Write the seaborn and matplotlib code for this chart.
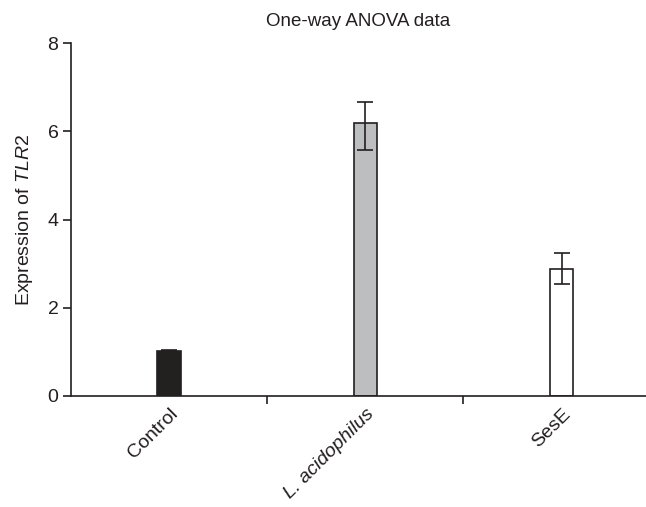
import matplotlib
matplotlib.use("Agg")
import matplotlib.pyplot as plt
import seaborn as sns
import numpy as np
import pandas as pd

categories = ["Control", "L. acidophilus", "SesE"]
tick_labels = ["Control", "L. acidophilus", "SesE"]
italic_ticks = [False, True, False]
means = [1.03, 6.18, 2.87]
err_lower = [0.02, 0.60, 0.34]
err_upper = [0.02, 0.49, 0.38]
fills = ["#231f20", "#bcbec0", "#ffffff"]

sns.set_style("white")
plt.rcParams['font.family'] = ['Liberation Sans', 'DejaVu Sans']
plt.rcParams['mathtext.fontset'] = 'custom'
plt.rcParams['mathtext.it'] = 'Liberation Sans:italic'
plt.rcParams['mathtext.rm'] = 'Liberation Sans'

fig = plt.figure(figsize=(6.46, 5.07), dpi=100)
ax = fig.add_axes([71/646, (507-396)/507, 1 - 71/646, (396-43)/507])

df = pd.DataFrame({"cat": categories, "val": means})
sns.barplot(data=df, x="cat", y="val", hue="cat", palette=fills, legend=False,
            width=0.12, edgecolor="#231f20", linewidth=1.2, ax=ax, errorbar=None)

ax.errorbar(np.arange(len(categories)), means, yerr=[err_lower, err_upper],
            fmt="none", ecolor="#231f20", elinewidth=1.2, capsize=6, capthick=1.2)

ax.set_xlim(-0.5, 2.43)
ax.set_ylim(0, 8)
ax.set_yticks([0, 2, 4, 6, 8])
ax.set_xticks([0, 1, 2])
ax.set_xticklabels(tick_labels, rotation=45, ha="right", rotation_mode="anchor", fontsize=14)
for lbl, it in zip(ax.get_xticklabels(), italic_ticks):
    if it:
        lbl.set_fontstyle("italic")
ax.set_xticks([0.5, 1.5], minor=True)
ax.tick_params(axis="x", which="major", bottom=True, length=0, pad=7)
ax.tick_params(axis="x", which="minor", bottom=True, length=6, width=1.2, color="#231f20", direction="out")
ax.tick_params(axis="y", which="major", left=True, length=6, width=1.2, color="#231f20", direction="out", labelsize=14, pad=3)
for lbl in ax.get_yticklabels():
    lbl.set_color("#231f20")
for lbl in ax.get_xticklabels():
    lbl.set_color("#231f20")

sns.despine(ax=ax)
for s in ["left", "bottom"]:
    ax.spines[s].set_linewidth(1.2)
    ax.spines[s].set_color("#231f20")

ax.set_xlabel("")
ax.set_ylabel(r"Expression of $\it{TLR}$2", fontsize=14, color="#231f20", labelpad=9)
ax.set_title("One-way ANOVA data", fontsize=13.5, color="#231f20", pad=12)

fig.savefig("out.png", dpi=100)
